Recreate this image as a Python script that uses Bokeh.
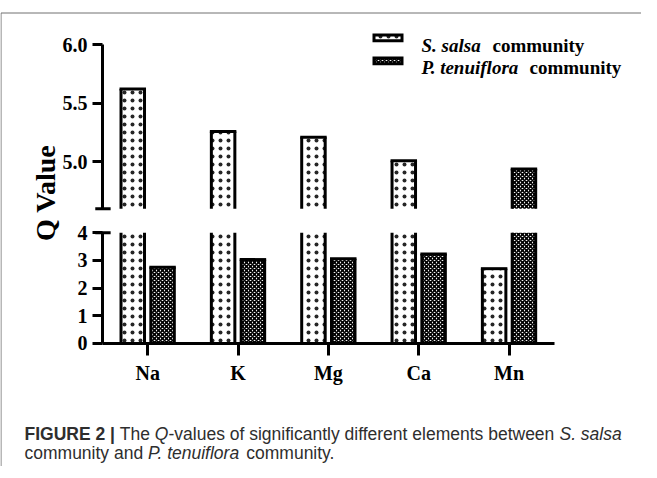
from bokeh.plotting import figure
from bokeh.models import (Range1d, FixedTicker, Label, LinearAxis, ColumnDataSource,
                          PrintfTickFormatter)
from bokeh.transform import dodge
from bokeh.embed import file_html
from bokeh.resources import INLINE

# ---------------- data ----------------
elements = ["Na", "K", "Mg", "Ca", "Mn"]
s_salsa = [5.62, 5.26, 5.21, 5.01, 2.70]
p_tenuiflora = [2.75, 3.03, 3.06, 3.23, 4.94]
top_ticks = [5.0, 5.5, 6.0]
bottom_ticks = [0, 1, 2, 3, 4]
top_segment = (4.6, 6.0)
bottom_segment = (0, 4)
series_names = ["S. salsa", "P. tenuiflora"]

# ---------------- layout constants (canvas pixels) ----------------
W, H = 641, 466
AX_X = 102.0        # canvas x of the y axes
CAT_W = 90.34       # pixels per category
ZERO_Y = 342.7      # canvas y (from top) of value 0
PPU_B = 27.6        # px per unit, lower segment
SIX_Y = 44.0        # canvas y (from top) of value 6.0
PPU_T = 117.4       # px per unit, upper segment
BAR_W = 0.26
OFFS = (-0.165, 0.165)
SERIF = "Liberation Serif"
SANS = "Liberation Sans"


def X(cx):   # canvas px -> x data
    return (cx - AX_X) / CAT_W


def Y(cy):   # canvas px (from top) -> y data of the lower segment range
    return (ZERO_Y - cy) / PPU_B


centers = [i + 0.5 for i in range(len(elements))]

p = figure(width=W, height=H, output_backend="svg", toolbar_location=None,
           x_range=Range1d(X(0), X(W)), y_range=Range1d(Y(H), Y(0)),
           x_axis_location=None, y_axis_location=None, min_border=0,
           min_border_left=0, min_border_right=0, min_border_top=0, min_border_bottom=0)
p.extra_y_ranges = {"top": Range1d(top_segment[1] - (H - SIX_Y) / PPU_T,
                                   top_segment[1] + SIX_Y / PPU_T)}
p.grid.visible = False
p.outline_line_color = None

textures = [dict(hatch_pattern=".", hatch_scale=8, hatch_weight=1, hatch_color="black",
                 hatch_alpha=0.85),
            dict(hatch_pattern="x", hatch_scale=4, hatch_weight=1.7, hatch_color="black")]


def segment_sources(values, lo, hi):
    rows = [(c, v) for c, v in zip(centers, values) if v > lo]
    full = ColumnDataSource(dict(x=[c for c, _ in rows],
                                 top=[min(v, hi) for _, v in rows],
                                 bottom=[lo] * len(rows)))
    closed_rows = [(c, v) for c, v in rows if v <= hi]
    closed = ColumnDataSource(dict(x=[c for c, _ in closed_rows],
                                   top=[v for _, v in closed_rows]))
    return full, closed


def draw_series(values, off, tex):
    for (lo, hi), rng in ((bottom_segment, "default"), (top_segment, "top")):
        full, closed = segment_sources(values, lo, hi)
        p.vbar(x=dodge("x", off), top="top", bottom="bottom", width=BAR_W, source=full,
               fill_color="white", line_color=None, y_range_name=rng, **tex)
        for e in (-BAR_W / 2, BAR_W / 2):
            p.segment(x0=dodge("x", off + e), x1=dodge("x", off + e), y0="bottom", y1="top",
                      source=full, line_width=3, line_color="black", y_range_name=rng)
        p.segment(x0=dodge("x", off - BAR_W / 2), x1=dodge("x", off + BAR_W / 2),
                  y0="top", y1="top", source=closed, line_width=3, line_color="black",
                  line_cap="square", y_range_name=rng)


for vals, off, tex in zip((s_salsa, p_tenuiflora), OFFS, textures):
    draw_series(vals, off, tex)


def style_axis(ax, size="20px"):
    ax.axis_line_width = 3
    ax.axis_line_color = "black"
    ax.major_tick_line_width = 3
    ax.major_tick_line_color = "black"
    ax.major_tick_in = 0
    ax.minor_tick_line_color = None
    ax.major_label_text_font = SERIF
    ax.major_label_text_font_style = "bold"
    ax.major_label_text_font_size = size
    ax.major_label_text_color = "black"


ax_bottom = LinearAxis(ticker=FixedTicker(ticks=bottom_ticks), bounds=bottom_segment,
                       fixed_location=0, major_tick_out=10, major_label_standoff=5)
style_axis(ax_bottom)
p.add_layout(ax_bottom, "left")

ax_top = LinearAxis(y_range_name="top", ticker=FixedTicker(ticks=top_ticks), bounds=top_segment,
                    fixed_location=0, major_tick_out=10, major_label_standoff=5,
                    formatter=PrintfTickFormatter(format="%.1f"))
style_axis(ax_top)
p.add_layout(ax_top, "left")

ax_x = LinearAxis(ticker=FixedTicker(ticks=centers), bounds=(0, len(elements)), fixed_location=0,
                  major_tick_out=12, major_label_standoff=7,
                  major_label_overrides={c: e for c, e in zip(centers, elements)})
style_axis(ax_x)
p.add_layout(ax_x, "below")

# break caps on the y axis
p.segment(x0=-0.08, x1=0.09, y0=bottom_segment[1], y1=bottom_segment[1], line_width=3, line_color="black")
p.segment(x0=-0.08, x1=0.09, y0=top_segment[0], y1=top_segment[0], line_width=3, line_color="black",
          y_range_name="top")

# ---------------- legend (swatches + mixed-style texts) ----------------
swatch_rows = [(34.5, 40.2), (57.6, 63.3)]   # canvas y of swatch top / bottom
for (t, b), tex in zip(swatch_rows, textures):
    p.quad(left=X(373.5), right=X(401.5), top=Y(t), bottom=Y(b), fill_color="white",
           line_color="black", line_width=3, line_join="miter", **tex)

legend_rows_y = [45.0, 66.7]
legend_comm_x = [492, 529]
for name, ly, cx in zip(series_names, legend_rows_y, legend_comm_x):
    p.add_layout(Label(x=X(421), y=Y(ly), text=name,
                       text_font=SERIF, text_font_style="bold italic", text_font_size="19px",
                       text_color="black", text_baseline="alphabetic"))
    p.add_layout(Label(x=X(cx), y=Y(ly), text="community",
                       text_font=SERIF, text_font_style="bold", text_font_size="19px",
                       text_color="black", text_baseline="alphabetic"))

# y axis title
p.add_layout(Label(x=X(45.3), y=Y(192.4), text="Q Value",
                   angle=90, angle_units="deg", text_align="center", text_baseline="alphabetic",
                   text_font=SERIF, text_font_style="bold", text_font_size="28px",
                   text_color="black"))

# figure frame (left and top edges)
p.segment(x0=[X(0.5), X(0.5)], x1=[X(0.5), X(W + 10)], y0=[Y(12.5), Y(12.5)], y1=[Y(H + 10), Y(12.5)],
          line_color="#707070", line_width=1)

# ---------------- caption ----------------
AR = {' ': 278, '-': 333, '.': 278, '|': 260, 'Q': 778, 'T': 611, 'S': 667, 'P': 667,
      'a': 556, 'b': 556, 'c': 500, 'd': 556, 'e': 556, 'f': 278, 'g': 556, 'h': 556,
      'i': 222, 'l': 222, 'm': 833, 'n': 556, 'o': 556, 'r': 333, 's': 500, 't': 278,
      'u': 556, 'v': 500, 'w': 722, 'y': 500}
AR_B = {'F': 611, 'I': 278, 'G': 778, 'U': 722, 'R': 722, 'E': 667, ' ': 278, '2': 556, '|': 280}


def text_w(s, size, bold=False):
    table = AR_B if bold else AR
    return sum(table.get(ch, 556) for ch in s) * size / 1000.0


CAP_SIZE = 17.5
caption_lines = [
    [("FIGURE 2 |", "bold"), (" The ", "normal"), ("Q", "italic"),
     ("-values of significantly different elements between ", "normal"), ("S. salsa", "italic")],
    [("community and ", "normal"), ("P. tenuiflora", "italic"), (" community.", "normal")],
]
caption_baselines = [433.0, 452.5]
for pieces, by in zip(caption_lines, caption_baselines):
    cx = 24.0
    for txt, style in pieces:
        bold = style == "bold"
        lead = len(txt) - len(txt.lstrip(" "))
        p.add_layout(Label(x=X(cx + text_w(txt[:lead], CAP_SIZE, bold)), y=Y(by), text=txt.strip(" "),
                           text_font=SANS, text_font_style=style, text_font_size=f"{CAP_SIZE}px",
                           text_color="#2e2e2e", text_baseline="alphabetic"))
        cx += text_w(txt, CAP_SIZE, bold)

open("out.html", "w").write(file_html(p, INLINE))
